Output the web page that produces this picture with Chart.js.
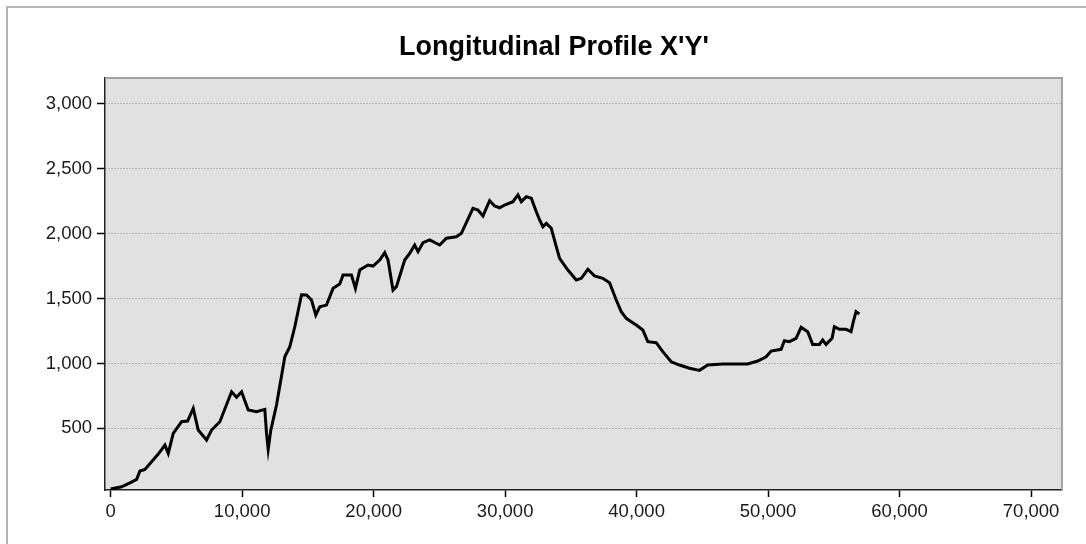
<!DOCTYPE html>
<html>
<head>
<meta charset="utf-8">
<script src="https://cdn.jsdelivr.net/npm/chart.js@4/dist/chart.umd.min.js"></script>
<style>
    body { margin: 0; background: #fff; }
    #frame { position: absolute; left: 6px; top: 6px; width: 1200px; height: 600px;
             border-left: 2px solid #b4b4b4; border-top: 2px solid #b4b4b4; }
    #wrap { position: absolute; left: 0; top: 0; width: 1086px; height: 544px; }
</style>
</head>
<body>
<div id="frame"></div>
<div id="wrap"><canvas id="profileChart" width="1086" height="544"></canvas></div>
<script>
// --- Data ---
const titleText = "Longitudinal Profile X'Y'";
const xTicks = [0, 10000, 20000, 30000, 40000, 50000, 60000, 70000];
const yTicks = [500, 1000, 1500, 2000, 2500, 3000];

const distance = [
    0, 836, 1467, 1976, 2226, 2606, 3115, 3620, 4126, 4380,
    4760, 5395, 5850, 6280, 6660, 7295, 7675, 8305, 9195, 9575,
    9955, 10460, 11094, 11725, 11854, 11980, 12180, 12614, 13245, 13625,
    14005, 14514, 14894, 15274, 15600, 15904, 16413, 16915, 17424, 17675,
    18313, 18617, 18944, 19575, 19955, 20463, 20843, 21094, 21474, 21733,
    22363, 22743, 23123, 23374, 23754, 24263, 25023, 25532, 26292, 26672,
    27553, 27933, 28313, 28822, 29202, 29582, 29962, 30593, 30973, 31231,
    31611, 31991, 32371, 32622, 32872, 33130, 33510, 33890, 34141, 34772,
    35410, 35790, 36292, 36801, 37432, 37941, 38450, 38830, 39210, 39590,
    39970, 40471, 40851, 41489, 41991, 42629, 43260, 44020, 44780, 45410,
    46550, 48450, 49210, 49848, 50228, 50988, 51238, 51618, 52128, 52508,
    53009, 53389, 53898, 54149, 54407, 54863, 55038, 55418, 55927, 56307,
    56482, 56687, 56938
];
const elevation = [
    32, 50, 80, 107, 171, 184, 243, 302, 371, 307,
    461, 551, 556, 654, 487, 410, 487, 551, 782, 739,
    782, 641, 628, 646, 461, 338, 487, 680, 1052, 1129,
    1283, 1530, 1528, 1489, 1373, 1437, 1450, 1579, 1612, 1682,
    1682, 1579, 1720, 1759, 1751, 1797, 1854, 1797, 1566, 1592,
    1797, 1849, 1913, 1862, 1931, 1952, 1913, 1965, 1977, 2003,
    2196, 2183, 2137, 2255, 2214, 2200, 2221, 2247, 2299, 2247,
    2286, 2273, 2170, 2106, 2054, 2080, 2042, 1900, 1810, 1720,
    1643, 1656, 1726, 1674, 1656, 1622, 1489, 1399, 1348, 1322,
    1296, 1258, 1168, 1160, 1091, 1013, 988, 963, 947, 988,
    996, 996, 1019, 1052, 1096, 1109, 1175, 1168, 1194, 1279,
    1245, 1147, 1147, 1181, 1147, 1194, 1283, 1263, 1263, 1245,
    1322, 1399, 1381
];

const points = distance.map((d, i) => ({ x: d, y: elevation[i] }));
const fmt = v => v.toLocaleString('en-US');

// grey plot background plus the light top/right frame
const plotFrame = {
    id: 'plotFrame',
    beforeDraw(chart) {
        const { ctx, chartArea: a } = chart;
        ctx.save();
        ctx.fillStyle = '#e1e1e1';
        ctx.fillRect(a.left, a.top, a.right - a.left, a.bottom - a.top);
        ctx.restore();
    },
    afterDraw(chart) {
        const { ctx, chartArea: a } = chart;
        ctx.save();
        ctx.strokeStyle = '#a3a3a3';
        ctx.lineWidth = 2;
        ctx.beginPath();
        ctx.moveTo(a.left, a.top);
        ctx.lineTo(a.right, a.top);
        ctx.lineTo(a.right, a.bottom);
        ctx.stroke();
        ctx.restore();
    }
};

const tickFont = { family: 'Liberation Sans, Arial, sans-serif', size: 18.5 };

new Chart(document.getElementById('profileChart'), {
    type: 'line',
    data: {
        datasets: [{
            data: points,
            borderColor: '#000',
            borderWidth: 3,
            pointRadius: 0,
            tension: 0,
            fill: false
        }]
    },
    options: {
        responsive: false,
        animation: false,
        layout: { padding: { left: 46, right: 24, top: 0, bottom: 0 } },
        plugins: {
            legend: { display: false },
            tooltip: { enabled: false },
            title: {
                display: true,
                text: titleText,
                color: '#000',
                font: { family: 'Liberation Sans, Arial, sans-serif', size: 27, weight: 'bold' },
                padding: { top: 31, bottom: 14.6 }
            }
        },
        scales: {
            x: {
                type: 'linear',
                min: -430,
                max: 72350,
                afterBuildTicks: s => { s.ticks = xTicks.map(v => ({ value: v })); },
                afterFit: s => { s.height = 54; },
                grid: { drawOnChartArea: false, drawTicks: true, tickLength: 7, tickColor: '#000', tickWidth: 1.5 },
                border: { color: '#222', width: 1.5 },
                ticks: { color: '#1a1a1a', font: tickFont, padding: 4, maxRotation: 0, callback: v => fmt(v) }
            },
            y: {
                min: 25,
                max: 3200,
                afterBuildTicks: s => { s.ticks = yTicks.map(v => ({ value: v })); },
                afterFit: s => { s.width = 59; },
                grid: { color: '#8f8f8f', lineWidth: 1, drawTicks: true, tickLength: 8, tickColor: '#000', tickWidth: 1.5 },
                border: { color: '#222', width: 1.5, dash: [1, 2] },
                ticks: { color: '#1a1a1a', font: tickFont, padding: 5, callback: v => fmt(v) }
            }
        }
    },
    plugins: [plotFrame]
});
</script>
</body>
</html>
